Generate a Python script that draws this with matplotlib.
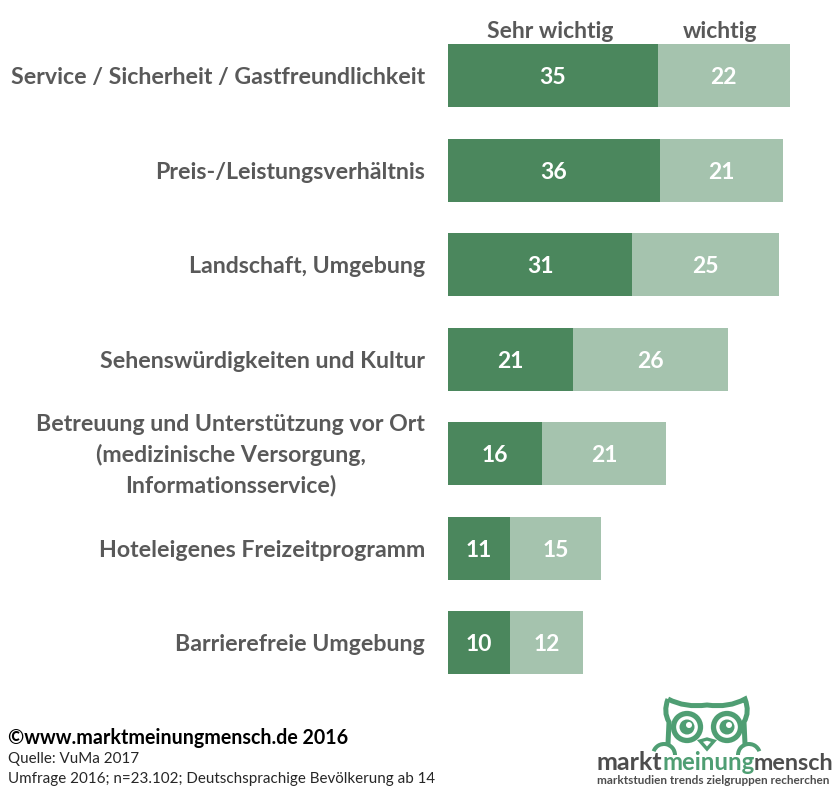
import matplotlib
matplotlib.use('Agg')
import matplotlib.pyplot as plt
from matplotlib.patches import Circle, Polygon, PathPatch, Wedge
from matplotlib.path import Path
from matplotlib.transforms import ScaledTranslation

plt.rcParams['font.family'] = ['Lato', 'DejaVu Sans']

W, H = 839, 801

categories = ['Service / Sicherheit / Gastfreundlichkeit',
              'Preis-/Leistungsverhältnis',
              'Landschaft, Umgebung',
              'Sehenswürdigkeiten und Kultur',
              'Betreuung und Unterstützung vor Ort\n(medizinische Versorgung,\nInformationsservice)',
              'Hoteleigenes Freizeitprogramm',
              'Barrierefreie Umgebung']
# bar lengths, the printed labels are rounded
sehr_wichtig = [35.0, 35.4, 30.8, 20.9, 15.7, 10.4, 10.4]
wichtig = [22.1, 20.6, 24.5, 25.9, 20.7, 15.2, 12.2]
sehr_labels = [35, 36, 31, 21, 16, 11, 10]
wichtig_labels = [22, 21, 25, 26, 21, 15, 12]

DARK = '#4b875d'
LIGHT = '#a5c3ae'
GREY = '#595959'
LOGO = '#4f9e73'

fig = plt.figure(figsize=(W / 100, H / 100), dpi=100)

# chart axes, placed in pixels
ax = fig.add_axes([448 / W, 1 - 690 / H, 390 / W, (690 - 28.5) / H])
ax.set_xlim(0, 65.15)
ax.set_ylim(6.5, -0.5)
ax.barh(range(7), sehr_wichtig, height=0.667, color=DARK)
ax.barh(range(7), wichtig, left=sehr_wichtig, height=0.667, color=LIGHT)
for i in range(7):
    ax.text(sehr_wichtig[i] / 2, i, str(sehr_labels[i]), color='white', fontsize=16.5,
            fontweight='bold', ha='center', va='center_baseline')
    ax.text(sehr_wichtig[i] + wichtig[i] / 2, i, str(wichtig_labels[i]), color='white',
            fontsize=16.5, fontweight='bold', ha='center', va='center_baseline')
ax.set_yticks(range(7))
ax.set_yticklabels(categories, fontsize=16.7, fontweight='bold', color=GREY,
                   multialignment='center', linespacing=1.48)
ax.tick_params(axis='y', length=0, pad=16.5)
# the three line label sits a bit higher than the others
lab = ax.get_yticklabels()[4]
lab.set_transform(lab.get_transform() + ScaledTranslation(0, 5 / 100, fig.dpi_scale_trans))
ax.xaxis.set_visible(False)
for s in ax.spines.values():
    s.set_visible(False)

# overlay in pixel coordinates for legend, footer and logo
ov = fig.add_axes([0, 0, 1, 1])
ov.set_xlim(0, W)
ov.set_ylim(H, 0)
ov.axis('off')
ov.patch.set_alpha(0)

ov.text(550, 31, 'Sehr wichtig', fontsize=16.5, fontweight='bold', color=GREY, ha='center', va='center')
ov.text(720, 31, 'wichtig', fontsize=16.5, fontweight='bold', color=GREY, ha='center', va='center')

ov.text(8, 737.5, '©www.marktmeinungmensch.de 2016', fontsize=14.1, fontweight='bold', color='black', va='center')
ov.text(8, 759, 'Quelle: VuMa 2017', fontsize=10.9, color='#262626', va='center')
ov.text(8, 779, 'Umfrage 2016; n=23.102; Deutschsprachige Bevölkerung ab 14', fontsize=10.9, color='#262626', va='center')

# owl logo
head = [(Path.MOVETO, (668, 699)), (Path.CURVE3, (685, 708)), (Path.CURVE3, (707, 705)),
        (Path.CURVE3, (729, 708)), (Path.CURVE3, (745, 699)), (Path.CURVE3, (750, 712)),
        (Path.CURVE3, (744, 722)), (Path.LINETO, (745, 744))]
ov.add_patch(PathPatch(Path([p for c, p in head], [c for c, p in head]), fc='none', ec=LOGO, lw=3.6))
head_l = [(Path.MOVETO, (668, 699)), (Path.CURVE3, (663, 712)), (Path.CURVE3, (669, 722)),
          (Path.LINETO, (668, 744))]
ov.add_patch(PathPatch(Path([p for c, p in head_l], [c for c, p in head_l]), fc='none', ec=LOGO, lw=3.6))
for cx in (687, 727):
    ov.add_patch(Circle((cx, 727), 13.5, fc='white', ec=LOGO, lw=3.8))
    ov.add_patch(Circle((cx, 727), 7.5, fc=LOGO, ec='none'))
    ov.add_patch(Circle((cx + 2, 725), 3, fc='white', ec='none'))
ov.add_patch(Polygon([(700, 741), (707, 739), (714, 741), (707, 749)], closed=True, fc='white', ec=LOGO, lw=2.4))
ov.add_patch(Wedge((664, 755), 13, 200, 360, width=4, fc=LOGO, ec='none'))
ov.add_patch(Wedge((749, 755), 13, 180, 340, width=4, fc=LOGO, ec='none'))
ov.text(597, 763, 'markt', fontsize=18, fontweight='bold', color='#4d4d4d', va='center')
ov.text(662, 763, 'meinung', fontsize=17.2, fontweight='bold', color=LOGO, va='center')
ov.text(833, 763, 'mensch', fontsize=16.8, fontweight='bold', color='#4d4d4d', va='center', ha='right')
ov.text(597, 781, 'marktstudien trends zielgruppen recherchen', fontsize=8.5, fontweight='bold',
        color='#4d4d4d', va='center')

fig.savefig('out.png', dpi=100)
